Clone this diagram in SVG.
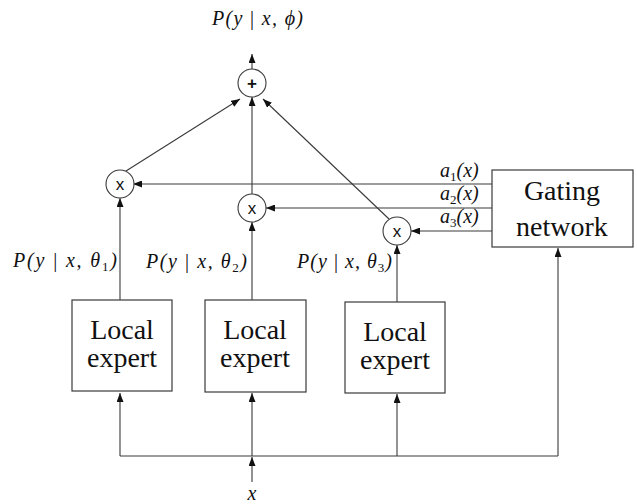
<svg xmlns="http://www.w3.org/2000/svg" width="637" height="504" viewBox="0 0 637 504">
  <style>
    .ln { fill: none; stroke: #3a3a3a; stroke-width: 1.1; }
    .box { fill: #fff; stroke: #3a3a3a; stroke-width: 1.2; }
    .op { fill: #fff; stroke: #3a3a3a; stroke-width: 1.1; }
    .opt { font-size: 17px; fill: #111; text-anchor: middle; }
    .lbl { font-size: 28px; fill: #111; text-anchor: middle; }
    .m { font-style: italic; font-size: 20px; fill: #111; }
    .up { font-style: normal; }
    .sub { font-size: 13px; font-style: normal; }
  </style>
  <defs>
    <marker id="arr" viewBox="0 0 9 7" refX="9" refY="3.5" markerWidth="9" markerHeight="7" markerUnits="userSpaceOnUse" orient="auto">
      <path d="M0,0 L9,3.5 L0,7 z" fill="#111"/>
    </marker>
  </defs>

  <!-- connectors -->
  <g id="connectors">
    <!-- sum output -->
    <line class="ln" x1="252" y1="69" x2="252" y2="54" marker-end="url(#arr)"/>
    <!-- products into the sum -->
    <line class="ln" x1="126" y1="171" x2="240" y2="99" marker-end="url(#arr)"/>
    <line class="ln" x1="252" y1="195" x2="252" y2="97" marker-end="url(#arr)"/>
    <line class="ln" x1="389" y1="219" x2="263" y2="99" marker-end="url(#arr)"/>
    <!-- gating weights -->
    <line class="ln" x1="492" y1="184" x2="133" y2="184" marker-end="url(#arr)"/>
    <line class="ln" x1="492" y1="208" x2="266" y2="208" marker-end="url(#arr)"/>
    <line class="ln" x1="492" y1="231" x2="411" y2="231" marker-end="url(#arr)"/>
    <!-- expert outputs -->
    <line class="ln" x1="120" y1="300" x2="120" y2="198" marker-end="url(#arr)"/>
    <line class="ln" x1="252" y1="300" x2="252" y2="222" marker-end="url(#arr)"/>
    <line class="ln" x1="397" y1="302" x2="397" y2="245" marker-end="url(#arr)"/>
    <!-- input bus -->
    <polyline class="ln" points="120,456 558,456"/>
    <line class="ln" x1="120" y1="456" x2="120" y2="393" marker-end="url(#arr)"/>
    <line class="ln" x1="252" y1="456" x2="252" y2="393" marker-end="url(#arr)"/>
    <line class="ln" x1="397" y1="456" x2="397" y2="394" marker-end="url(#arr)"/>
    <line class="ln" x1="558" y1="456" x2="558" y2="248" marker-end="url(#arr)"/>
    <line class="ln" x1="252" y1="482" x2="252" y2="457" marker-end="url(#arr)"/>
  </g>

  <!-- sum node -->
  <g id="sum" font-family="Liberation Sans, Arial, sans-serif">
    <circle class="op" cx="252" cy="83" r="14"/>
    <text class="opt" x="252" y="89" font-weight="bold">+</text>
  </g>

  <!-- product nodes -->
  <g id="prod1" font-family="Liberation Sans, Arial, sans-serif">
    <circle class="op" cx="120" cy="184" r="14"/>
    <text class="opt" x="120" y="190">x</text>
  </g>
  <g id="prod2" font-family="Liberation Sans, Arial, sans-serif">
    <circle class="op" cx="252" cy="208" r="14"/>
    <text class="opt" x="252" y="214">x</text>
  </g>
  <g id="prod3" font-family="Liberation Sans, Arial, sans-serif">
    <circle class="op" cx="397" cy="231" r="14"/>
    <text class="opt" x="397" y="237">x</text>
  </g>

  <!-- gating network -->
  <g id="gating" font-family="Times New Roman, Liberation Serif, DejaVu Serif, serif">
    <rect class="box" x="492" y="170" width="141" height="77"/>
    <text class="lbl" x="562" y="200">Gating</text>
    <text class="lbl" x="562" y="236">network</text>
  </g>

  <!-- local experts -->
  <g id="expert1" font-family="Times New Roman, Liberation Serif, DejaVu Serif, serif">
    <rect class="box" x="72" y="300" width="100" height="91"/>
    <text class="lbl" x="122" y="339">Local</text>
    <text class="lbl" x="122" y="367">expert</text>
  </g>
  <g id="expert2" font-family="Times New Roman, Liberation Serif, DejaVu Serif, serif">
    <rect class="box" x="205" y="300" width="101" height="92"/>
    <text class="lbl" x="255" y="339">Local</text>
    <text class="lbl" x="255" y="367">expert</text>
  </g>
  <g id="expert3" font-family="Times New Roman, Liberation Serif, DejaVu Serif, serif">
    <rect class="box" x="345" y="302" width="100" height="91"/>
    <text class="lbl" x="395" y="341">Local</text>
    <text class="lbl" x="395" y="369">expert</text>
  </g>

  <!-- labels -->
  <g id="labels" font-family="Times New Roman, Liberation Serif, DejaVu Serif, serif">
    <text class="m" x="212" y="25" textLength="91" lengthAdjust="spacing">P(y <tspan class="up">|</tspan> x, ϕ)</text>
    <text class="m" x="13" y="267" textLength="104" lengthAdjust="spacing">P(y <tspan class="up">|</tspan> x, θ<tspan class="sub" dy="4">1</tspan><tspan dy="-4">)</tspan></text>
    <text class="m" x="146" y="268" textLength="101" lengthAdjust="spacing">P(y <tspan class="up">|</tspan> x, θ<tspan class="sub" dy="4">2</tspan><tspan dy="-4">)</tspan></text>
    <text class="m" x="297" y="268" textLength="95" lengthAdjust="spacing">P(y <tspan class="up">|</tspan> x, θ<tspan class="sub" dy="4">3</tspan><tspan dy="-4">)</tspan></text>
    <text class="m" x="440" y="177">a<tspan class="sub" dy="4">1</tspan><tspan dy="-4">(x)</tspan></text>
    <text class="m" x="440" y="200">a<tspan class="sub" dy="4">2</tspan><tspan dy="-4">(x)</tspan></text>
    <text class="m" x="440" y="223">a<tspan class="sub" dy="4">3</tspan><tspan dy="-4">(x)</tspan></text>
    <text class="m" x="252" y="500" text-anchor="middle">x</text>
  </g>
</svg>
